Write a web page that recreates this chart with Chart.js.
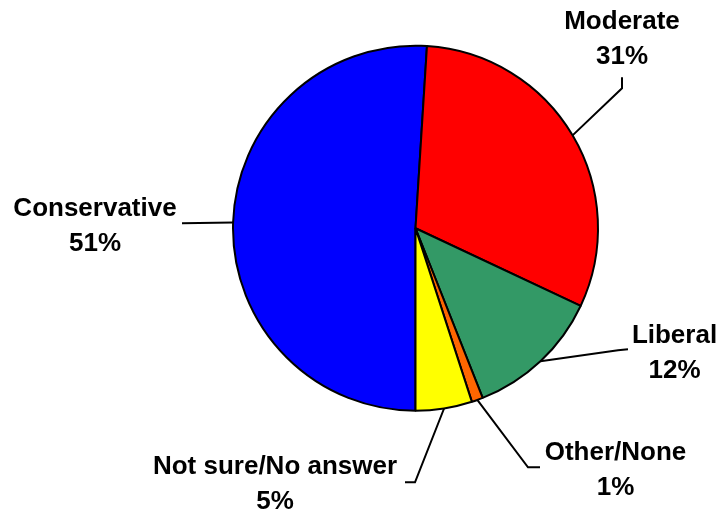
<!DOCTYPE html>
<html>
<head>
<meta charset="utf-8">
<script src="https://cdn.jsdelivr.net/npm/chart.js@4"></script>
<style>
  html, body { margin: 0; padding: 0; background: #ffffff; }
  #wrap { width: 719px; height: 513px; position: relative; }
</style>
</head>
<body>
<div id="wrap"><canvas id="c"></canvas></div>
<script>
// ---- data ----
const categories = ["Conservative", "Moderate", "Liberal", "Other/None", "Not sure/No answer"];
const values = [51, 31, 12, 1, 5];
const percentLabels = ["51%", "31%", "12%", "1%", "5%"];
const colors = ["#0000FF", "#FF0000", "#339966", "#FF6600", "#FFFF00"];

// ---- label layout (relative to pie centre): text centre, leader elbow points ----
const labelLayout = [
  { text: [-320.5, -22], path: [[-233.5, -5]] },
  { text: [206.5, -209], path: [[206.5, -140], [206.5, -151]] },
  { text: [259, 105.5], path: [[202.5, 122], [212.5, 121]] },
  { text: [200, 222], path: [[112.5, 239], [124.5, 239]] },
  { text: [-140.5, 236], path: [[-0.5, 254], [-10.5, 254]] }
];

const W = 719, H = 513;
const CX = 415.5, CY = 228.25, R = 182.5, HALF = 190;

const leaderPlugin = {
  id: 'leaders',
  afterDatasetsDraw(chart) {
    const ctx = chart.ctx;
    const meta = chart.getDatasetMeta(0);
    ctx.save();
    ctx.strokeStyle = '#000';
    ctx.lineWidth = 2;
    ctx.lineJoin = 'miter';
    ctx.fillStyle = '#000';
    ctx.font = 'bold 26px "Liberation Sans", Arial, sans-serif';
    ctx.textAlign = 'center';
    ctx.textBaseline = 'alphabetic';
    meta.data.forEach((arc, i) => {
      const p = arc.getProps(['x', 'y', 'startAngle', 'endAngle', 'outerRadius'], true);
      const mid = (p.startAngle + p.endAngle) / 2;
      const sx = p.x + p.outerRadius * Math.cos(mid);
      const sy = p.y + p.outerRadius * Math.sin(mid);
      const lay = labelLayout[i];
      ctx.beginPath();
      ctx.moveTo(sx, sy);
      lay.path.forEach(pt => ctx.lineTo(p.x + pt[0], p.y + pt[1]));
      ctx.stroke();
      const tx = p.x + lay.text[0], ty = p.y + lay.text[1];
      ctx.fillText(categories[i], tx, ty + 9.5);
      ctx.fillText(percentLabels[i], tx, ty + 35 + 9.5);
    });
    ctx.restore();
  }
};

new Chart(document.getElementById('c'), {
  type: 'pie',
  data: {
    labels: categories,
    datasets: [{
      data: values,
      backgroundColor: colors,
      borderColor: '#000000',
      borderWidth: 2,
      borderAlign: 'center'
    }]
  },
  options: {
    responsive: true,
    maintainAspectRatio: false,
    animation: false,
    rotation: 180,
    radius: R,
    layout: {
      padding: {
        left: CX - HALF,
        right: W - CX - HALF,
        top: CY - HALF,
        bottom: H - CY - HALF
      }
    },
    plugins: {
      legend: { display: false },
      tooltip: { enabled: false },
      title: { display: false }
    }
  },
  plugins: [leaderPlugin]
});
</script>
</body>
</html>
